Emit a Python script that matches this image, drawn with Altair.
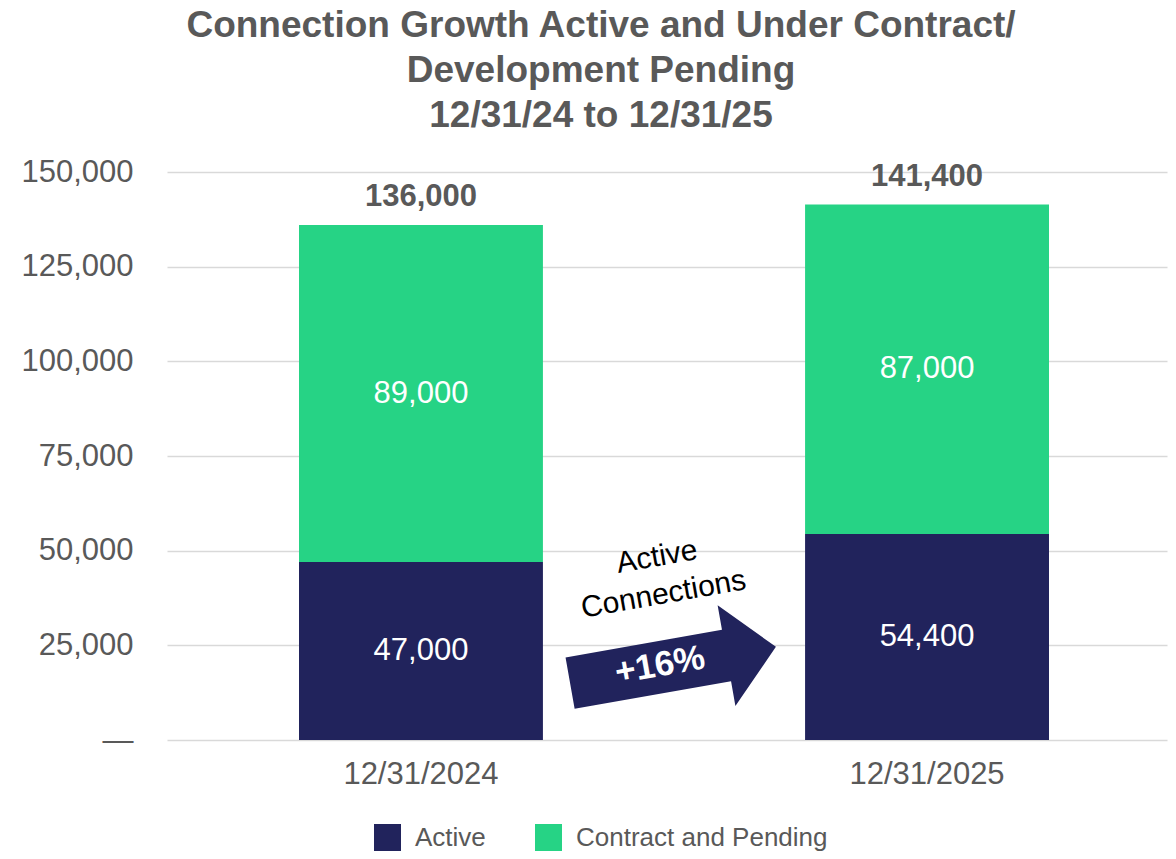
import altair as alt
import pandas as pd

dates = ["12/31/2024", "12/31/2025"]
series = ["Active", "Contract and Pending"]
active = [47000, 54400]
contract = [89000, 87000]
totals = [136000, 141400]
y_ticks = [0, 25000, 50000, 75000, 100000, 125000, 150000]
title_lines = ["Connection Growth Active and Under Contract/", "Development Pending", "12/31/24 to 12/31/25"]
growth_label = "+16%"
growth_caption = ["Active", "Connections"]

NAVY = "#21235C"
GREEN = "#26D385"
GRAY = "#595959"
FONT = "Liberation Sans"

rows = []
for i, d in enumerate(dates):
    rows.append({"date": d, "series": series[0], "idx": 0, "value": active[i]})
    rows.append({"date": d, "series": series[1], "idx": 1, "value": contract[i]})
df = pd.DataFrame(rows)
tot = pd.DataFrame({"date": dates, "total": totals})

xscale = alt.Scale(domain=dates, paddingInner=0.518, paddingOuter=0.247, align=0.528)
yscale = alt.Scale(domain=[0, 150000], nice=False)

x_enc = alt.X("date:N", scale=xscale, sort=dates,
              axis=alt.Axis(title=None, labelAngle=0, labelFontSize=31, labelColor=GRAY,
                            labelFont=FONT, ticks=False, domain=False, labelPadding=19, grid=False))

bars = alt.Chart(df).mark_bar().encode(
    x=x_enc,
    y=alt.Y("value:Q", stack="zero", scale=yscale,
            axis=alt.Axis(title=None, values=y_ticks, labelFontSize=31,
                          labelColor=GRAY, labelFont=FONT, ticks=False, domain=False,
                          labelPadding=34, grid=True, gridColor="#d9d9d9", gridWidth=1.5,
                          labelExpr="datum.value == 0 ? '\u2014' : format(datum.value, ',')")),
    color=alt.Color("series:N", scale=alt.Scale(domain=series, range=[NAVY, GREEN]),
                    legend=alt.Legend(title=None, orient="none", direction="horizontal",
                                      legendX=207, legendY=652, symbolType="square",
                                      symbolSize=729, symbolStrokeWidth=0, labelFontSize=26,
                                      labelColor=GRAY, labelFont=FONT, labelOffset=14,
                                      labelLimit=0, columnPadding=49, padding=0)),
    order=alt.Order("idx:Q", sort="ascending"),
)

seg_labels = alt.Chart(df).transform_stack(
    stack="value", groupby=["date"], as_=["y0", "y1"],
    sort=[alt.SortField("idx", order="ascending")]
).transform_calculate(
    mid="(datum.y0 + datum.y1) / 2"
).mark_text(color="white", fontSize=31, font=FONT, baseline="middle").encode(
    x=alt.X("date:N", scale=xscale, sort=dates),
    y=alt.Y("mid:Q", scale=yscale),
    text=alt.Text("value:Q", format=","),
)

tot_labels = alt.Chart(tot).mark_text(color=GRAY, fontSize=31, fontWeight="bold", font=FONT,
                                      baseline="alphabetic", dy=-19).encode(
    x=alt.X("date:N", scale=xscale, sort=dates),
    y=alt.Y("total:Q", scale=yscale),
    text=alt.Text("total:Q", format=","),
)

arrow_path = "M -1 -0.25 L 0.52 -0.25 L 0.52 -0.49 L 1 0 L 0.52 0.49 L 0.52 0.25 L -1 0.25 Z"
arrow = alt.Chart(pd.DataFrame({"k": [0]})).mark_point(
    shape=arrow_path, filled=True, color=NAVY, opacity=1, size=43681, angle=350, strokeWidth=0
).encode(x=alt.value(506), y=alt.value(493))

arrow_text = alt.Chart(pd.DataFrame({"t": [growth_label]})).mark_text(
    color="white", fontSize=35, fontWeight="bold", font=FONT, angle=350, baseline="middle"
).encode(x=alt.value(493), y=alt.value(493), text="t:N")

caption = alt.Chart(pd.DataFrame({"k": [0]})).mark_text(
    color="black", fontSize=30, font=FONT, angle=350, baseline="middle", lineHeight=38,
    text=growth_caption
).encode(x=alt.value(490), y=alt.value(385))

chart = alt.layer(bars, seg_labels, tot_labels, arrow, arrow_text, caption).properties(
    width=1000, height=568,
    autosize=alt.AutoSizeParams(type="none"),
    padding={"left": 159, "top": 164, "right": 1, "bottom": 111},
    title=alt.TitleParams(text=title_lines, fontSize=37, fontWeight="bold", color=GRAY,
                          font=FONT, lineHeight=45, anchor="middle", frame="group",
                          dx=-66, offset=21),
).configure_view(stroke=None)

chart.save("out.html", embed_options={"renderer": "svg", "actions": False})
